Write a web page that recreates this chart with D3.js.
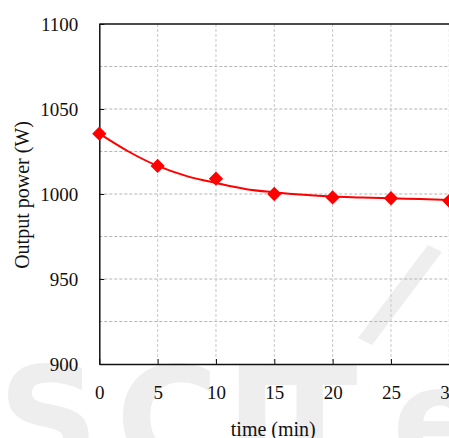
<!DOCTYPE html>
<html>
<head>
<meta charset="utf-8">
<script src="https://cdn.jsdelivr.net/npm/d3@7"></script>
<style>
body { margin: 0; background: #fff; }
</style>
</head>
<body>
<svg id="chart" width="449" height="438"></svg>
<script>
// measured points (diamonds)
var time_pts = [0, 5, 10, 15, 20, 25, 30];
var power_pts = [1035.5, 1016.5, 1009, 1000, 998, 997.5, 996];
// fitted curve
var curve_t = [0, 2.5, 5, 7.5, 10, 12.5, 15, 17.5, 20, 22.5, 25, 27.5, 30];
var curve_p = [1035.5, 1025, 1016.5, 1010.5, 1006.5, 1003, 1001, 999.5, 998.5, 998, 997.5, 997, 996.5];
var x_ticks = [0, 5, 10, 15, 20, 25, 30];
var y_ticks = [900, 950, 1000, 1050, 1100];
var y_grid = [925, 950, 975, 1000, 1025, 1050, 1075];

var serif = '"Liberation Serif", "Times New Roman", serif';
var svg = d3.select('#chart');
var p_left = 99.3, p_right = 449.3, p_top = 24, p_bottom = 364;

var x = d3.scaleLinear().domain([0, 30]).range([p_left, p_right]);
var y = d3.scaleLinear().domain([900, 1100]).range([p_bottom, p_top]);

// faint watermark behind everything
var wm = svg.append('g')
    .style('font-family', '"DejaVu Sans", sans-serif')
    .style('font-weight', 'bold')
    .style('font-size', '140px')
    .style('fill', '#eeeeee');
[['S', -2], ['C', 116], ['I', 226], ['T', 262], ['e', 392]].forEach(function (l) {
    wm.append('text').attr('x', l[1]).attr('y', 468).text(l[0]);
});
wm.append('path')
    .attr('d', 'M428,245 L442,252 L372,345 L358,338 Z')
    .attr('fill', '#eeeeee');

// grid
svg.append('g').selectAll('line.hg')
    .data(y_grid).enter().append('line')
        .attr('x1', p_left).attr('x2', p_right)
        .attr('y1', function (d) { return y(d); })
        .attr('y2', function (d) { return y(d); })
        .attr('stroke', '#b4b4b4')
        .attr('stroke-dasharray', '3,2');
svg.append('g').selectAll('line.vg')
    .data(x_ticks.slice(1)).enter().append('line')
        .attr('y1', p_top).attr('y2', p_bottom)
        .attr('x1', function (d) { return x(d); })
        .attr('x2', function (d) { return x(d); })
        .attr('stroke', '#c8c8c8')
        .attr('stroke-dasharray', '3,2');

// axes (ticks pointing inward)
function styleAxis(g) {
    g.select('.domain').attr('stroke', '#111').attr('stroke-width', 1.5);
    g.selectAll('.tick line').attr('stroke', '#111');
    g.selectAll('.tick text')
        .style('font-family', serif)
        .style('font-size', '19px')
        .style('fill', '#111');
}
svg.append('g')
    .attr('transform', 'translate(0,' + p_bottom + ')')
    .call(d3.axisBottom(x).tickValues(x_ticks).tickFormat(d3.format('d'))
        .tickSizeInner(-5).tickSizeOuter(0).tickPadding(22))
    .call(styleAxis);
svg.append('g')
    .attr('transform', 'translate(' + p_left + ',0)')
    .call(d3.axisLeft(y).tickValues(y_ticks).tickFormat(d3.format('d'))
        .tickSizeInner(-5).tickSizeOuter(0).tickPadding(21))
    .call(styleAxis);
// top frame line
svg.append('line')
    .attr('x1', p_left).attr('x2', p_right)
    .attr('y1', p_top).attr('y2', p_top)
    .attr('stroke', '#111').attr('stroke-width', 1.5);

// fitted curve
var line = d3.line()
    .x(function (d, i) { return x(curve_t[i]); })
    .y(function (d) { return y(d); })
    .curve(d3.curveMonotoneX);
svg.append('path')
    .datum(curve_p)
    .attr('d', line)
    .attr('fill', 'none')
    .attr('stroke', '#ff0000')
    .attr('stroke-width', 2);

// diamonds
svg.append('g').selectAll('path.pt')
    .data(power_pts).enter().append('path')
        .attr('transform', function (d, i) { return 'translate(' + x(time_pts[i]) + ',' + y(d) + ')'; })
        .attr('d', d3.symbol().type(d3.symbolDiamond2).size(130))
        .attr('fill', '#ff0000');

// axis titles
svg.append('text')
    .attr('x', (p_left + p_right) / 2 - 1).attr('y', 436)
    .attr('text-anchor', 'middle')
    .style('font-family', serif).style('font-size', '20px').style('fill', '#111')
    .text('time (min)');
svg.append('text')
    .attr('transform', 'translate(29,195) rotate(-90)')
    .attr('text-anchor', 'middle')
    .style('font-family', serif).style('font-size', '20px').style('fill', '#111')
    .text('Output power (W)');
</script>
</body>
</html>
